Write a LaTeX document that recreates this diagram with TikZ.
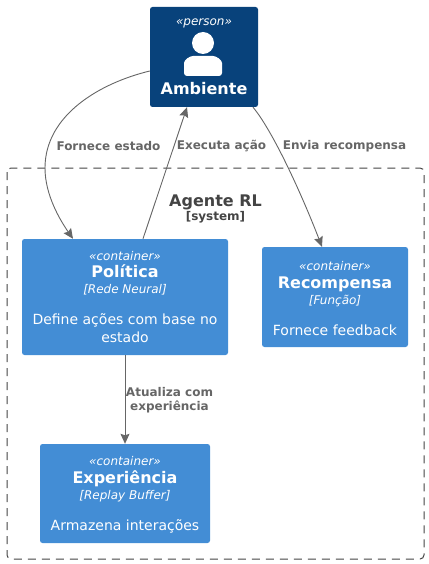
\documentclass[tikz,border=0pt]{standalone}
\usepackage{fontspec}
\setmainfont{DejaVu Sans}
\usetikzlibrary{arrows.meta}

\definecolor{personblue}{HTML}{08427B}
\definecolor{containerblue}{HTML}{438DD5}
\definecolor{relgray}{HTML}{666666}
\definecolor{boundarygray}{HTML}{444444}

\newcommand{\stereotype}[1]{{\fontsize{12}{16}\selectfont\itshape «#1»}}
\newcommand{\boxtitle}[1]{{\fontsize{16}{16}\selectfont\bfseries #1}}
\newcommand{\techline}[1]{{\fontsize{12}{16}\selectfont\itshape [#1]}}

\tikzset{
	containerbox/.style = {fill = containerblue, text = white, rounded corners = 2.5pt, align = center, inner sep = 0pt, font = \fontsize{14}{16}\selectfont},
	relarrow/.style = {draw = relgray, line width = 0.9pt, -{Stealth[length = 10pt, width = 9pt, inset = 1.5pt]}},
	rellabel/.style = {text = relgray, align = center, inner sep = 0pt, font = \fontsize{12}{14}\selectfont\bfseries}
}

\begin{document}
\begin{tikzpicture}[x = 1pt, y = -1pt]
	\useasboundingbox (0, 0) rectangle (428, 564);

	% Draw the system boundary
	\draw[boundarygray, line width = 1pt, dash pattern = on 8pt off 6pt, rounded corners = 4pt] (7, 168) rectangle (424, 559);
	\node[text = boundarygray, align = center, inner sep = 0pt, font = \fontsize{16}{16}\selectfont\bfseries] (agentetitle) at (215.5, 209)
		{Agente RL\\[-2pt]{\fontsize{12}{14}\selectfont [system]}};

	% Draw the boxes
	\node[containerbox, fill = personblue, minimum width = 108pt, minimum height = 100pt] (ambiente) at (204, 57) {};
	\node[containerbox, minimum width = 206pt, minimum height = 116pt] (politica) at (125, 297)
		{\stereotype{container}\\[1pt]\boxtitle{Política}\\[0pt]\techline{Rede Neural}\\[15pt]Define ações com base no\\[2pt]estado};
	\node[containerbox, minimum width = 146pt, minimum height = 100pt] (recompensa) at (335, 297)
		{\rule{0pt}{12pt}\stereotype{container}\\[1.5pt]\boxtitle{Recompensa}\\[0pt]\techline{Função}\\[15pt]Fornece feedback};
	\node[containerbox, minimum width = 170pt, minimum height = 99pt] (experiencia) at (125, 493.5)
		{\rule{0pt}{12pt}\stereotype{container}\\[1.5pt]\boxtitle{Experiência}\\[0pt]\techline{Replay Buffer}\\[15pt]Armazena interações};

	% Draw the person inside its box
	\node[text = white, inner sep = 0pt] (ambientetipo) at (204, 23.5) {\stereotype{person}};
	\node[text = white, inner sep = 0pt, font = \fontsize{16}{16}\selectfont\bfseries] (ambientenome) at (204, 89) {Ambiente};
	\fill[white] (203, 43) circle (11);
	\fill[white, rounded corners = 3pt] (184, 76) -- (184, 66) to[out = 90, in = 180] (196, 56) -- (210, 56) to[out = 0, in = 90] (222, 66) -- (222, 76) -- cycle;

	% Draw the connectors
	\draw[relarrow] (ambiente.west |- 0, 71) .. controls (100, 83) and (45, 115) .. (45, 168) .. controls (45, 195) and (60, 220) .. ([xshift = -52pt]politica.north);
	\draw[relarrow] ([xshift = 18pt]politica.north) -- ([xshift = -17pt]ambiente.south);
	\draw[relarrow] ([xshift = 49pt]ambiente.south) .. controls (272, 130) and (300, 190) .. ([xshift = -13pt]recompensa.north);
	\draw[relarrow] (politica.south) -- (experiencia.north);

	% Draw the connector labels
	\node[rellabel] (fornece) at (108.5, 146) {Fornece estado};
	\node[rellabel] (executa) at (221.5, 146) {Executa ação};
	\node[rellabel] (envia) at (344.5, 146) {Envia recompensa};
	\node[rellabel] (atualiza) at (169.5, 400) {Atualiza com\\experiência};
\end{tikzpicture}
\end{document}
